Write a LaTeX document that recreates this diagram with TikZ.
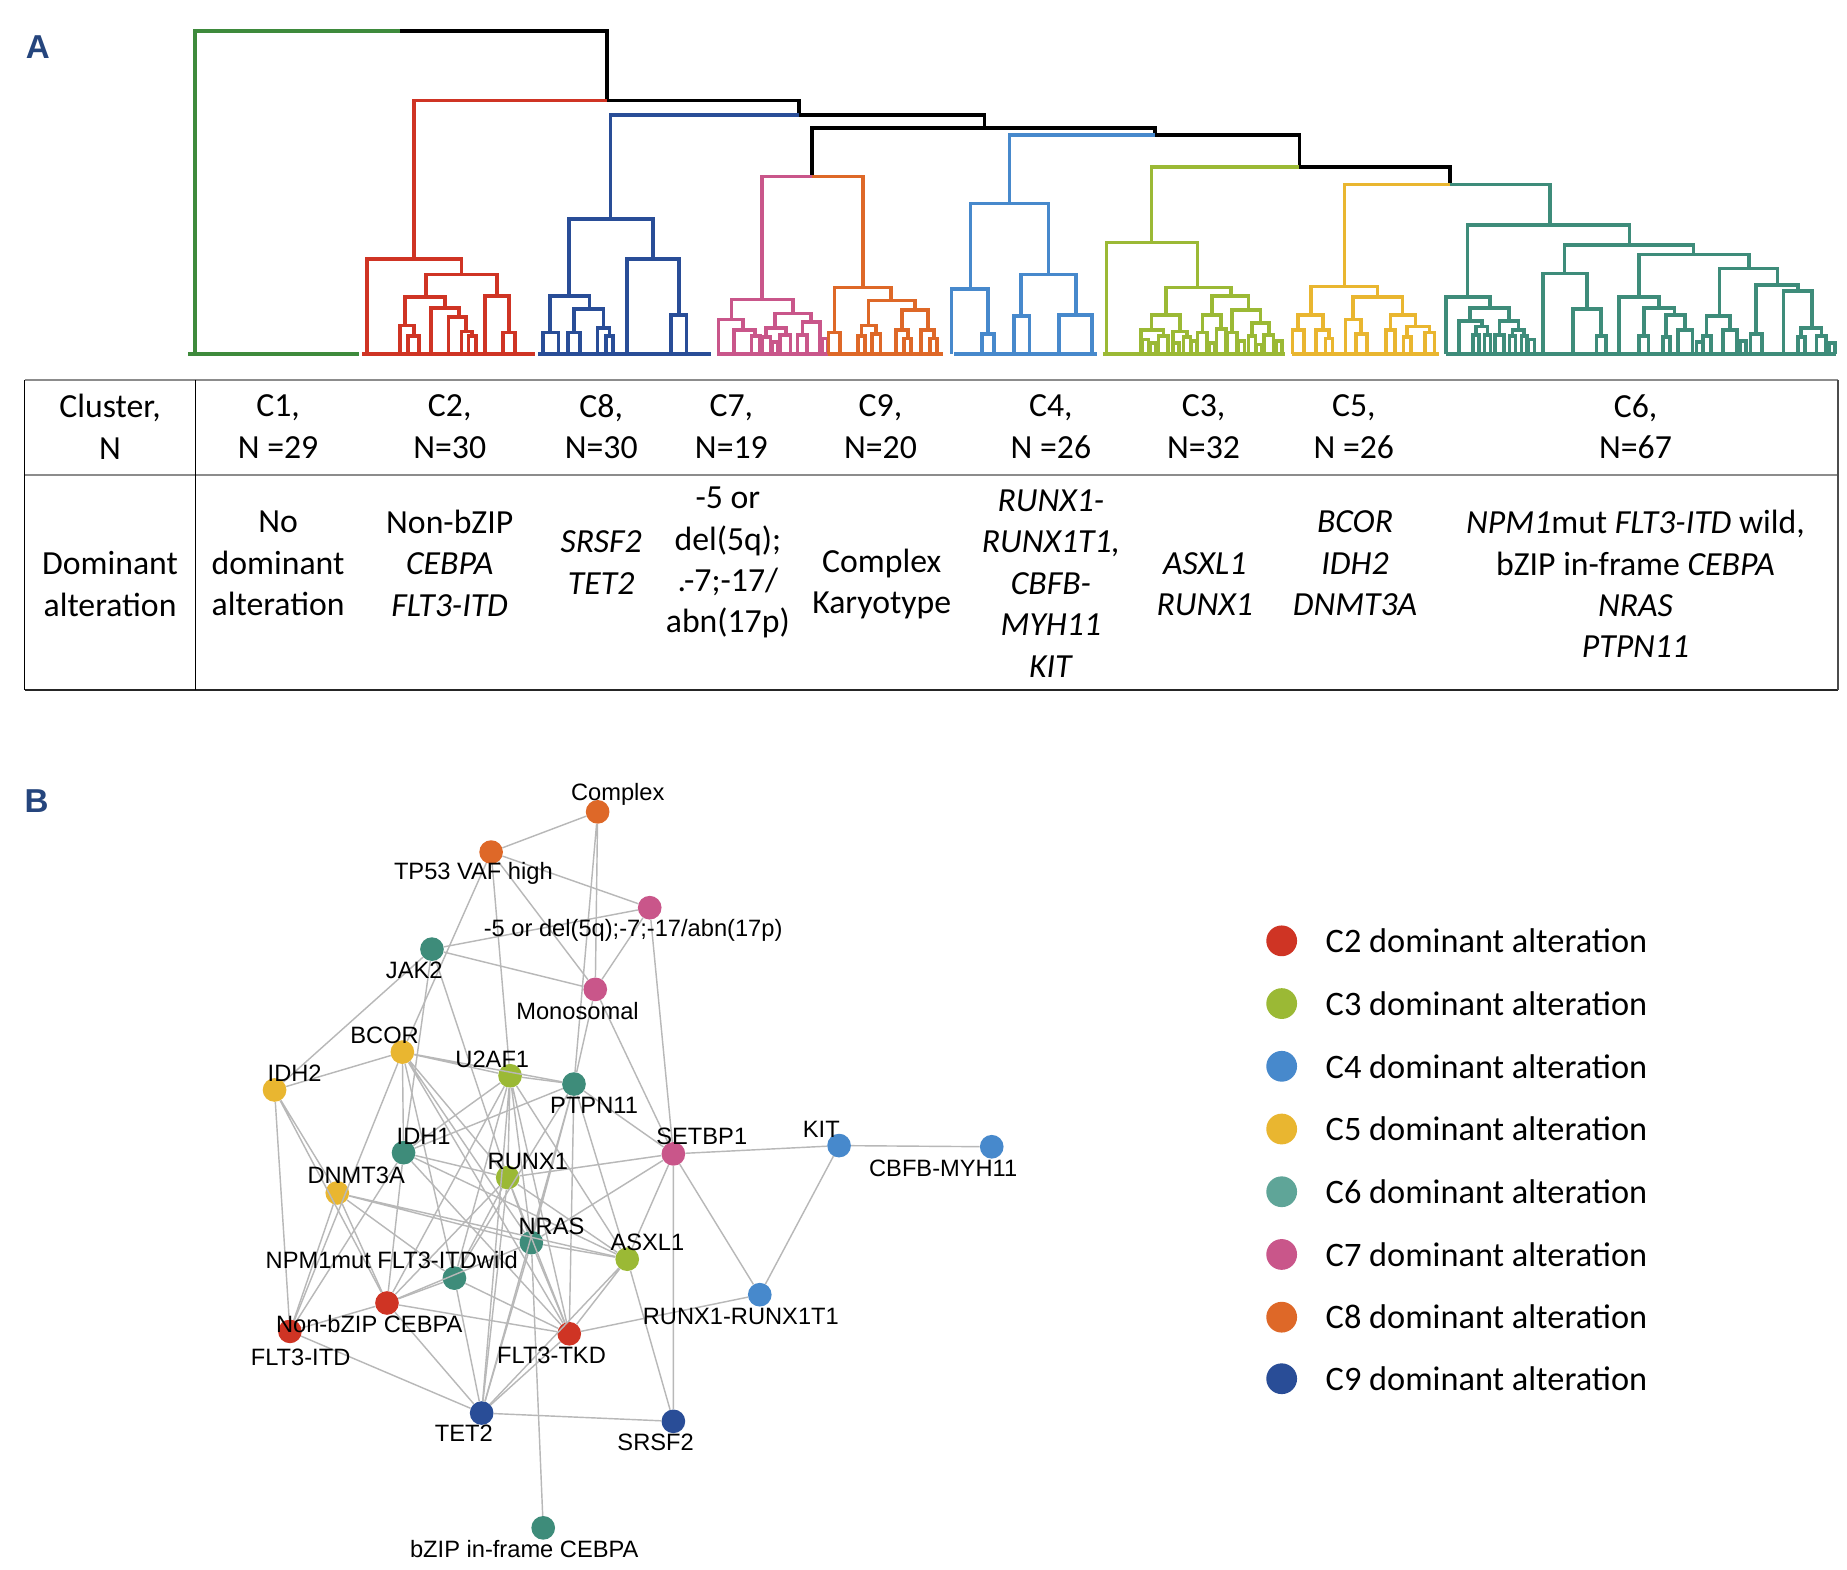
\documentclass[tikz,border=0pt]{standalone}
\usepackage{fontspec}
\setmainfont{Carlito}
\newfontfamily\netfont{Liberation Sans}

\definecolor{cA}{HTML}{3E8A3C}
\definecolor{cB}{HTML}{CF3424}
\definecolor{cC}{HTML}{9BB935}
\definecolor{cD}{HTML}{4789CC}
\definecolor{cE}{HTML}{E9B630}
\definecolor{cF}{HTML}{3E8C7A}
\definecolor{cG}{HTML}{C9568A}
\definecolor{cH}{HTML}{294D97}
\definecolor{cI}{HTML}{DE6828}
\definecolor{cFl}{HTML}{5FA598}
\definecolor{panelblue}{HTML}{25457D}

% dendrogram link: left x, right x, join height, left end, right end
\newcommand{\dlink}[5]{\draw (#1,#4) |- (#2,#3) -- (#2,#5);}
% small leaf pair sitting on the base line
\newcommand{\tuft}[2]{\draw (#1-2.5,299) |- (#1+2.5,#2) -- (#1+2.5,299);}

\tikzset{
  dendro/.style={line width=3.1pt},
  cell/.style={align=center, inner sep=0pt, font=\fontsize{28.5}{35}\selectfont},
  gnode/.style={circle, inner sep=0pt, minimum size=20pt},
  glabel/.style={font=\netfont\fontsize{20}{22}\selectfont, inner sep=0pt},
  edge/.style={black!28, line width=1.2pt},
  legdot/.style={circle, inner sep=0pt, minimum size=26pt},
  legtext/.style={anchor=west, inner sep=0pt, font=\fontsize{29}{32}\selectfont},
  panel/.style={font=\netfont\bfseries\fontsize{28}{30}\selectfont, text=panelblue, inner sep=0pt}
}

\begin{document}
\begin{tikzpicture}[x=1pt, y=-1pt]
\useasboundingbox[fill=white] (0,0) rectangle (1560.7,1325.8);

\node[panel] (pA) at (32,40) {A};
\node[panel] (pB) at (31,677) {B};

% Dendrogram: upper joins
\begin{scope}[dendro]
    \draw[cA] (165,299) -- (165,26) -- (338,26);
    \draw[cA] (159,299) -- (303,299);
    \draw[black] (338,26) -- (513,26) -- (513,85);
    \draw[cB] (350,219) -- (350,85) -- (513,85);
    \draw[black] (513,85) -- (675,85) -- (675,97);
    \draw[cH] (516,185) -- (516,97) -- (675,97);
    \draw[black] (675,97) -- (832,97) -- (832,108);
    \draw[black] (686,149) -- (686,108) -- (976,108) -- (976,114);
    \draw[cG] (644,253) -- (644,149) -- (686,149);
    \draw[cI] (686,149) -- (729,149) -- (729,243);
    \draw[cD] (853,172) -- (853,114) -- (976,114);
    \draw[black] (976,114) -- (1098,114) -- (1098,141);
    \draw[cC] (973,205) -- (973,141) -- (1098,141);
    \draw[black] (1098,141) -- (1225,141) -- (1225,156);
    \draw[cE] (1136,242) -- (1136,156) -- (1225,156);
    \draw[cF] (1225,156) -- (1310,156) -- (1310,190);
\end{scope}

% C2
\begin{scope}[dendro, cB]
    \dlink{310}{390}{219}{299}{232}
    \dlink{360}{420}{232}{251}{250}
    \dlink{342}{376}{251}{275}{260}
    \dlink{338}{350}{275}{299}{284}
    \dlink{345}{354}{284}{299}{299}
    \dlink{364}{388}{260}{299}{268}
    \dlink{379}{394}{268}{299}{280}
    \dlink{390}{399}{280}{299}{284}
    \dlink{396}{402}{284}{299}{299}
    \dlink{410}{430}{250}{299}{281}
    \dlink{425}{435}{281}{299}{299}
    \draw (306,299) -- (452,299);
\end{scope}

% C8
\begin{scope}[dendro, cH]
    \dlink{481}{552}{185}{250}{219}
    \dlink{465}{498}{250}{281}{261}
    \dlink{459}{472}{281}{299}{299}
    \dlink{485}{510}{261}{281}{277}
    \dlink{480}{490}{281}{299}{299}
    \dlink{505}{515}{277}{299}{284}
    \dlink{512}{518}{284}{299}{299}
    \dlink{530}{574}{219}{299}{266}
    \dlink{567}{580}{266}{299}{299}
    \draw (455,299) -- (601,299);
\end{scope}

% C7
\begin{scope}[dendro, cG]
    \dlink{618}{670}{253}{270}{265}
    \dlink{607}{628}{270}{299}{279}
    \dlink{620}{638}{279}{299}{284}
    \dlink{635}{642}{284}{299}{299}
    \dlink{655}{685}{265}{277}{272}
    \dlink{647}{664}{277}{285}{283}
    \dlink{644}{651}{285}{299}{299}
    \dlink{659}{668}{283}{299}{299}
    \dlink{678}{693}{272}{283}{299}
    \dlink{674}{682}{283}{299}{299}
    \tuft{697}{286}
    \tuft{655}{289}
    \draw (606,299) -- (700,299);
\end{scope}

% C9
\begin{scope}[dendro, cI]
    \dlink{705}{753}{243}{281}{254}
    \dlink{700}{710}{281}{299}{299}
    \dlink{734}{773}{254}{275}{262}
    \dlink{728}{740}{275}{284}{282}
    \dlink{725}{731}{284}{299}{299}
    \dlink{737}{744}{282}{299}{299}
    \dlink{762}{784}{262}{279}{279}
    \dlink{757}{767}{279}{299}{286}
    \dlink{764}{770}{286}{299}{299}
    \dlink{778}{789}{279}{299}{286}
    \dlink{786}{792}{286}{299}{299}
    \draw (700,299) -- (797,299);
\end{scope}

% C4
\begin{scope}[dendro, cD]
    \dlink{820}{886}{172}{244}{232}
    \dlink{804}{835}{244}{299}{282}
    \dlink{830}{840}{282}{299}{299}
    \dlink{863}{909}{232}{267}{266}
    \dlink{857}{870}{267}{299}{299}
    \dlink{895}{923}{266}{299}{299}
    \draw (806,299) -- (927,299);
\end{scope}

% C3
\begin{scope}[dendro, cC]
    \dlink{935}{1012}{205}{299}{243}
    \dlink{985}{1040}{243}{266}{250}
    \dlink{973}{997}{266}{279}{280}
    \dlink{964}{983}{279}{299}{284}
    \dlink{979}{987}{284}{299}{299}
    \dlink{991}{1003}{280}{299}{285}
    \dlink{1000}{1006}{285}{299}{299}
    \dlink{1024}{1055}{250}{266}{262}
    \dlink{1016}{1032}{266}{281}{278}
    \dlink{1012}{1020}{281}{299}{299}
    \dlink{1028}{1036}{278}{299}{299}
    \dlink{1041}{1065}{262}{281}{273}
    \dlink{1037}{1045}{281}{299}{299}
    \dlink{1058}{1072}{273}{284}{283}
    \dlink{1055}{1061}{284}{299}{299}
    \dlink{1068}{1076}{283}{299}{299}
    \tuft{968}{287}
    \tuft{974}{290}
    \tuft{994}{290}
    \tuft{1009}{288}
    \tuft{1024}{290}
    \tuft{1049}{288}
    \tuft{1064}{291}
    \tuft{1081}{288}
    \draw (932,299) -- (1086,299);
\end{scope}

% C5
\begin{scope}[dendro, cE]
    \dlink{1108}{1164}{242}{266}{251}
    \dlink{1097}{1118}{266}{279}{279}
    \dlink{1092}{1102}{279}{299}{299}
    \dlink{1112}{1123}{279}{299}{286}
    \dlink{1120}{1126}{286}{299}{299}
    \dlink{1143}{1185}{251}{270}{266}
    \dlink{1137}{1150}{270}{299}{282}
    \dlink{1146}{1155}{282}{299}{299}
    \dlink{1175}{1196}{266}{279}{276}
    \dlink{1171}{1179}{279}{299}{299}
    \dlink{1189}{1208}{276}{285}{281}
    \dlink{1186}{1192}{285}{299}{299}
    \dlink{1204}{1212}{281}{299}{299}
    \draw (1092,299) -- (1216,299);
\end{scope}

% C6
\begin{scope}[dendro, cF]
    \dlink{1240}{1377}{190}{251}{207}
    \dlink{1222}{1259}{251}{299}{260}
    \dlink{1242}{1275}{260}{271}{271}
    \dlink{1233}{1252}{271}{299}{276}
    \dlink{1247}{1257}{276}{283}{283}
    \dlink{1267}{1283}{271}{283}{279}
    \dlink{1263}{1271}{283}{299}{299}
    \dlink{1278}{1288}{279}{284}{284}
    \tuft{1247}{283}
    \tuft{1257}{283}
    \tuft{1278}{284}
    \tuft{1288}{284}
    \tuft{1294}{287}
    \dlink{1322}{1431}{207}{231}{215}
    \dlink{1304}{1341}{231}{299}{261}
    \dlink{1329}{1353}{261}{299}{284}
    \dlink{1349}{1357}{284}{299}{299}
    \dlink{1385}{1478}{215}{251}{227}
    \dlink{1368}{1402}{251}{299}{260}
    \dlink{1389}{1415}{260}{284}{266}
    \dlink{1385}{1393}{284}{299}{299}
    \dlink{1408}{1424}{266}{285}{279}
    \dlink{1405}{1411}{285}{299}{299}
    \dlink{1418}{1430}{279}{299}{299}
    \dlink{1453}{1502}{227}{267}{241}
    \dlink{1442}{1462}{267}{284}{279}
    \dlink{1439}{1446}{284}{299}{299}
    \dlink{1456}{1468}{279}{299}{299}
    \dlink{1484}{1519}{241}{282}{246}
    \dlink{1479}{1489}{282}{299}{299}
    \dlink{1507}{1531}{246}{299}{277}
    \dlink{1522}{1539}{277}{285}{284}
    \dlink{1519}{1525}{285}{299}{299}
    \dlink{1535}{1543}{284}{299}{299}
    \tuft{1436}{289}
    \tuft{1473}{288}
    \tuft{1548}{290}
    \draw (1222,299) -- (1551,299);
\end{scope}

% Table
\draw[black!45, line width=1.2pt] (21,321) -- (1553,321);
\draw[black!45, line width=1.6pt] (21,401) -- (1553,401);
\draw[black!85, line width=2pt] (21,583) -- (1553,583);
\draw[line width=1pt] (21,321) -- (21,583);
\draw[black!70, line width=1pt] (1553,321) -- (1553,583);
\draw[line width=1pt] (165,321) -- (165,583);

\node[cell] (hd0) at (93,360.5) {Cluster,\\N};
\node[cell] (hd1) at (235,360.5) {C1,\\N =29};
\node[cell] (hd2) at (380,360.5) {C2,\\N=30};
\node[cell] (hd8) at (508,360.5) {C8,\\N=30};
\node[cell] (hd7) at (618,360.5) {C7,\\N=19};
\node[cell] (hd9) at (744,360.5) {C9,\\N=20};
\node[cell] (hd4) at (888,360.5) {C4,\\N =26};
\node[cell] (hd3) at (1017,360.5) {C3,\\N=32};
\node[cell] (hd5) at (1144,360.5) {C5,\\N =26};
\node[cell] (hd6) at (1382,360.5) {C6,\\N=67};

\node[cell] (dm0) at (93,493.5) {Dominant\\alteration};
\node[cell] (dm1) at (235,476) {No\\dominant\\alteration};
\node[cell] (dm2) at (380,476) {Non-bZIP\\\textit{CEBPA}\\\textit{FLT3-ITD}};
\node[cell] (dm8) at (508,475.5) {\textit{SRSF2}\\\textit{TET2}};
\node[cell] (dm7) at (615,475.5) {-5 or\\del(5q);\\.-7;-17/\\abn(17p)};
\node[cell] (dm9) at (745,493.5) {Complex\\Karyotype};
\node[cell] (dm4) at (888,493) {\textit{RUNX1-}\\\textit{RUNX1T1,}\\\textit{CBFB-}\\\textit{MYH11}\\\textit{KIT}};
\node[cell] (dm3) at (1018,493.5) {\textit{ASXL1}\\\textit{RUNX1}};
\node[cell] (dm5) at (1145,476) {\textit{BCOR}\\\textit{IDH2}\\\textit{DNMT3A}};
\node[cell] (dm6) at (1382,493.5) {\textit{NPM1}mut \textit{FLT3-ITD} wild,\\bZIP in-frame \textit{CEBPA}\\\textit{NRAS}\\\textit{PTPN11}};

% Network nodes
\node[gnode, fill=cI] (cpx) at (505,686) {};
\node[gnode, fill=cI] (tp53) at (415,720) {};
\node[gnode, fill=cG] (m5) at (549,767) {};
\node[gnode, fill=cF] (jak2) at (365,802) {};
\node[gnode, fill=cG] (mono) at (503,836) {};
\node[gnode, fill=cE] (bcor) at (340,889) {};
\node[gnode, fill=cE] (idh2) at (232,921) {};
\node[gnode, fill=cC] (u2af1) at (431,909) {};
\node[gnode, fill=cF] (ptpn11) at (485,916) {};
\node[gnode, fill=cF] (idh1) at (341,974) {};
\node[gnode, fill=cG] (setbp1) at (569,975) {};
\node[gnode, fill=cD] (kit) at (709,968) {};
\node[gnode, fill=cD] (cbfb) at (838,969) {};
\node[gnode, fill=cC] (runx1) at (429,995) {};
\node[gnode, fill=cE] (dnmt3a) at (285,1008) {};
\node[gnode, fill=cF] (nras) at (449,1050) {};
\node[gnode, fill=cC] (asxl1) at (530,1064) {};
\node[gnode, fill=cF] (npm1) at (384,1080) {};
\node[gnode, fill=cD] (rrx) at (642,1094) {};
\node[gnode, fill=cB] (nonb) at (327,1101) {};
\node[gnode, fill=cB] (itd) at (245,1125) {};
\node[gnode, fill=cB] (tkd) at (481,1127) {};
\node[gnode, fill=cH] (tet2) at (407,1194) {};
\node[gnode, fill=cH] (srsf2) at (569,1201) {};
\node[gnode, fill=cF] (bzip) at (459,1291) {};

% Network edges
\draw[edge] (cpx) -- (tp53) (cpx) -- (mono) (cpx) -- (ptpn11);
\draw[edge] (tp53) -- (m5) (tp53) -- (mono) (tp53) -- (u2af1) (tp53) -- (bcor);
\draw[edge] (m5) -- (jak2) (m5) -- (mono) (m5) -- (setbp1);
\draw[edge] (jak2) -- (mono) (jak2) -- (idh2) (jak2) -- (idh1) (jak2) -- (runx1);
\draw[edge] (mono) -- (ptpn11) (mono) -- (setbp1);
\draw[edge] (bcor) -- (idh2) (bcor) -- (u2af1) (bcor) -- (ptpn11) (bcor) -- (idh1) (bcor) -- (itd) (bcor) -- (runx1) (bcor) -- (nras) (bcor) -- (tkd) (bcor) -- (npm1);
\draw[edge] (idh2) -- (dnmt3a) (idh2) -- (nonb) (idh2) -- (itd);
\draw[edge] (u2af1) -- (ptpn11) (u2af1) -- (idh1) (u2af1) -- (runx1) (u2af1) -- (nras) (u2af1) -- (asxl1) (u2af1) -- (tkd) (u2af1) -- (nonb) (u2af1) -- (tet2) (u2af1) -- (npm1);
\draw[edge] (ptpn11) -- (setbp1) (ptpn11) -- (idh1) (ptpn11) -- (nras) (ptpn11) -- (asxl1) (ptpn11) -- (tet2) (ptpn11) -- (npm1) (ptpn11) -- (tkd);
\draw[edge] (setbp1) -- (runx1) (setbp1) -- (kit) (setbp1) -- (nras) (setbp1) -- (asxl1) (setbp1) -- (rrx) (setbp1) -- (srsf2);
\draw[edge] (kit) -- (cbfb) (kit) -- (rrx);
\draw[edge] (idh1) -- (runx1) (idh1) -- (asxl1) (idh1) -- (tkd) (idh1) -- (nonb) (idh1) -- (itd);
\draw[edge] (dnmt3a) -- (nras) (dnmt3a) -- (itd) (dnmt3a) -- (nonb) (dnmt3a) -- (npm1) (dnmt3a) -- (asxl1);
\draw[edge] (runx1) -- (nras) (runx1) -- (tkd) (runx1) -- (npm1) (runx1) -- (nonb) (runx1) -- (tet2) (runx1) -- (asxl1);
\draw[edge] (nras) -- (asxl1) (nras) -- (tkd) (nras) -- (nonb) (nras) -- (tet2) (nras) -- (bzip);
\draw[edge] (asxl1) -- (tkd) (asxl1) -- (tet2) (asxl1) -- (srsf2);
\draw[edge] (npm1) -- (nonb) (npm1) -- (tkd) (npm1) -- (tet2);
\draw[edge] (nonb) -- (tkd) (nonb) -- (tet2) (nonb) -- (itd);
\draw[edge] (itd) -- (tet2) (tkd) -- (rrx) (tkd) -- (tet2) (tet2) -- (srsf2);

% Network labels
\node[glabel] (lcpx) at (522,671) {Complex};
\node[glabel] (ltp53) at (400,738) {TP53 VAF high};
\node[glabel] (lm5) at (535,786) {-5 or del(5q);-7;-17/abn(17p)};
\node[glabel] (ljak2) at (350,820) {JAK2};
\node[glabel] (lmono) at (488,854) {Monosomal};
\node[glabel] (lbcor) at (325,875) {BCOR};
\node[glabel] (lidh2) at (249,907) {IDH2};
\node[glabel] (lu2af1) at (416,895) {U2AF1};
\node[glabel] (lptpn11) at (502,934) {PTPN11};
\node[glabel] (lidh1) at (358,960) {IDH1};
\node[glabel] (lsetbp1) at (593,960) {SETBP1};
\node[glabel] (lkit) at (694,954) {KIT};
\node[glabel] (lcbfb) at (797,987) {CBFB-MYH11};
\node[glabel] (lrunx1) at (446,981) {RUNX1};
\node[glabel] (ldnmt3a) at (301,993) {DNMT3A};
\node[glabel] (lnras) at (466,1036) {NRAS};
\node[glabel] (lasxl1) at (547,1050) {ASXL1};
\node[glabel] (lnpm1) at (331,1065) {NPM1mut FLT3-ITDwild};
\node[glabel] (lrrx) at (626,1112) {RUNX1-RUNX1T1};
\node[glabel] (lnonb) at (312,1119) {Non-bZIP CEBPA};
\node[glabel] (litd) at (254,1147) {FLT3-ITD};
\node[glabel] (ltkd) at (466,1145) {FLT3-TKD};
\node[glabel] (ltet2) at (392,1211) {TET2};
\node[glabel] (lsrsf2) at (554,1219) {SRSF2};
\node[glabel] (lbzip) at (443,1309) {bZIP in-frame CEBPA};

% Legend
\node[legdot, fill=cB] (k2) at (1083,795) {};
\node[legdot, fill=cC] (k3) at (1083,848) {};
\node[legdot, fill=cD] (k4) at (1083,901) {};
\node[legdot, fill=cE] (k5) at (1083,954) {};
\node[legdot, fill=cFl] (k6) at (1083,1007) {};
\node[legdot, fill=cG] (k7) at (1083,1060) {};
\node[legdot, fill=cI] (k8) at (1083,1113) {};
\node[legdot, fill=cH] (k9) at (1083,1165) {};
\node[legtext] (t2) at (1120,795) {C2 dominant alteration};
\node[legtext] (t3) at (1120,848) {C3 dominant alteration};
\node[legtext] (t4) at (1120,901) {C4 dominant alteration};
\node[legtext] (t5) at (1120,954) {C5 dominant alteration};
\node[legtext] (t6) at (1120,1007) {C6 dominant alteration};
\node[legtext] (t7) at (1120,1060) {C7 dominant alteration};
\node[legtext] (t8) at (1120,1113) {C8 dominant alteration};
\node[legtext] (t9) at (1120,1165) {C9 dominant alteration};
\end{tikzpicture}
\end{document}
